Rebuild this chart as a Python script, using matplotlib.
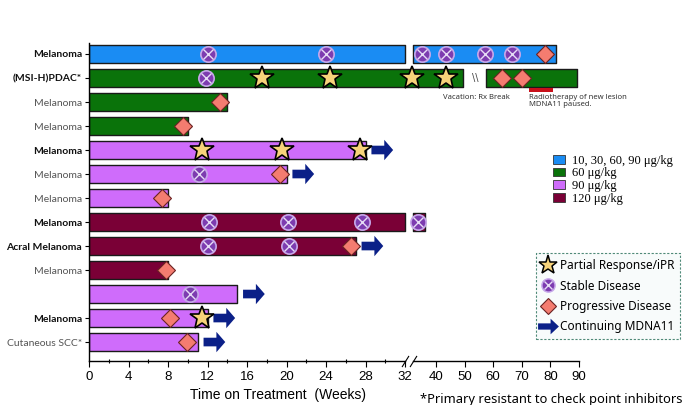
from matplotlib import pyplot as plt
from matplotlib.patches import Patch
from matplotlib.lines import Line2D
from matplotlib.path import Path
import numpy as np

# one row per patient, top to bottom
labels = ['Melanoma', '(MSI-H)PDAC*', 'Melanoma', 'Melanoma', 'Melanoma', 'Melanoma',
          'Melanoma', 'Melanoma', 'Acral Melanoma', 'Melanoma', '', 'Melanoma',
          'Cutaneous SCC*']
bold = [1, 1, 0, 0, 1, 0, 0, 1, 1, 0, 0, 1, 0]
dose = ['mixed', '60', '60', '60', '90', '90', '90', '120', '120', '120', '90', '90', '90']

# treatment periods in weeks (start, end)
periods = [
    [(0, 32), (34, 82)],
    [(0, 49.5), (57.5, 89.3)],
    [(0, 14)],
    [(0, 10)],
    [(0, 28)],
    [(0, 20)],
    [(0, 8)],
    [(0, 32), (34, 37.2)],
    [(0, 27)],
    [(0, 8)],
    [(0, 15)],
    [(0, 12)],
    [(0, 11)],
]
stable = [
    [12, 24, 36.3, 43.5, 57, 66.6],
    [11.8],
    [], [], [],
    [11.1],
    [],
    [12.2, 20.2, 27.6, 35.3],
    [12.1, 20.3],
    [],
    [10.2],
    [], [],
]
partial = [
    [],
    [17.5, 24.4, 33.7, 43.5],
    [], [],
    [11.4, 19.5, 27.4],
    [], [], [], [], [], [],
    [11.4],
    [],
]
progressive = [
    [78],
    [63, 70],
    [13.3],
    [9.5],
    [],
    [19.3],
    [7.4],
    [],
    [26.5],
    [7.8],
    [],
    [8.2],
    [9.9],
]
continuing = [0, 0, 0, 0, 1, 1, 0, 0, 1, 0, 1, 1, 1]

dose_colors = {'mixed': '#1a8cf3', '60': '#0a730a', '90': '#cf6cfb', '120': '#7a0036'}
dose_names = {'mixed': '10, 30, 60, 90 \u03bcg/kg', '60': '60 \u03bcg/kg',
              '90': '90 \u03bcg/kg', '120': '120 \u03bcg/kg'}

major_ticks = [0, 4, 8, 12, 16, 20, 24, 28, 32, 40, 50, 60, 70, 80, 90]
minor_ticks = [2, 6, 10, 14, 18, 22, 26, 30]

# broken axis: 0-32 weeks linear, gap, then 40-90 compressed
K1 = 3.875 / 9.875
K2 = 2.86 / 9.875
X40 = 32 + 8 * K1


def fwd(x):
    x = np.asarray(x, dtype=float)
    return np.where(x < 32, x, np.where(x < 40, 32 + (x - 32) * K1, X40 + (x - 40) * K2))


def inv(u):
    u = np.asarray(u, dtype=float)
    return np.where(u < 32, u, np.where(u < X40, 32 + (u - 32) / K1, 40 + (u - X40) / K2))


SD_FACE = '#7d3cb0'
SD_EDGE = '#c7a8ea'
STAR_FACE = '#f7d37a'
PD_FACE = '#f47c70'
ARROW = '#0b2088'
LABEL_FONT = 'Lato'

fig = plt.figure(figsize=(6.83, 4.05), dpi=100)
ax = fig.add_axes([89 / 683, 1 - 361 / 405, 490 / 683, 318 / 405])
ax.set_xscale('function', functions=(fwd, inv))
ax.set_xlim(0, 90)
ax.set_ylim(12.79, -0.458)

for i in range(len(labels)):
    color = dose_colors[dose[i]]
    ax.broken_barh([(a, b - a) for a, b in periods[i]], (i - 0.375, 0.75),
                   facecolor=color, edgecolor='#1a1a1a', linewidth=1, zorder=2)
    for x in stable[i]:
        ax.plot(x, i, 'o', ms=11, mfc=SD_FACE, mec=SD_EDGE, mew=1.2, zorder=4)
        ax.plot(x, i, 'x', ms=6.5, mec='#e6dcf5', mew=1.0, zorder=5)
    for x in progressive[i]:
        ax.plot(x, i, 'D', ms=9, mfc=PD_FACE, mec='#6a2222', mew=0.8, zorder=4)
    for x in partial[i]:
        ax.plot(x, i, '*', ms=18, mfc=STAR_FACE, mec='black', mew=1.2, zorder=6)
    if continuing[i]:
        end = periods[i][-1][1]
        ax.arrow(end + 0.6, i, 2.2, 0, width=0.36, head_width=0.85, head_length=0.9,
                 length_includes_head=True, color=ARROW, linewidth=0, zorder=3)

# notes on the PDAC row
ax.text(53.6, 1, '\\\\', fontsize=7, color='#444', ha='center', va='center')
ax.text(42.4, 1.8, 'Vacation: Rx Break', fontsize=5.5, color='#333',
        ha='left', va='center', family='Noto Sans')
ax.broken_barh([(72.5, 8.4)], (1.4, 0.18), facecolor='#c8101a', zorder=2)
ax.text(72.5, 1.66, 'Radiotherapy of new lesion\nMDNA11 paused.', fontsize=5.5,
        color='#333', ha='left', va='top', linespacing=1.05, family='Noto Sans')

# y axis
tick_rows = [i for i in range(len(labels)) if labels[i]]
ax.set_yticks(tick_rows)
ax.set_yticklabels([labels[i] for i in tick_rows], family=LABEL_FONT, fontsize=7.5)
for lab, i in zip(ax.get_yticklabels(), tick_rows):
    if bold[i]:
        lab.set_fontweight('bold')
        lab.set_color('#111111')
    else:
        lab.set_color('#555555')
ax.tick_params(axis='y', length=3, width=0.8, pad=2)

# x axis with break
ax.set_xticks(major_ticks)
ax.set_xticklabels([str(t) for t in major_ticks], family='Liberation Sans', fontsize=9.5)
ax.set_xticks(minor_ticks, minor=True)
ax.tick_params(axis='x', which='major', length=4, width=0.8, direction='out', pad=3)
ax.tick_params(axis='x', which='minor', length=3, width=0.8, direction='inout')
for s in ['top', 'right', 'bottom']:
    ax.spines[s].set_visible(False)
ax.spines['left'].set_linewidth(1)
xt = ax.get_xaxis_transform()
ax.plot([0, 32], [0, 0], color='black', lw=1, transform=xt, clip_on=False)
ax.plot([34, 90], [0, 0], color='black', lw=1, transform=xt, clip_on=False)
for xb in [32, 34]:
    ax.plot([xb], [0], marker=[(-1, -1.6), (1, 1.6)], ms=8, mec='black', mew=0.8,
            transform=xt, clip_on=False)

fig.text(278 / 683, 1 - 395 / 405, 'Time on Treatment  (Weeks)', ha='center', va='center',
         fontsize=10, family='Liberation Sans')
fig.text(420 / 683, 1 - 403 / 405, '*Primary resistant to check point inhibitors',
         ha='left', va='baseline', fontsize=9.3, family='Noto Sans')

# dose legend
dose_handles = [Patch(facecolor=dose_colors[k], edgecolor='#333333', linewidth=0.6,
                      label=dose_names[k]) for k in ['mixed', '60', '90', '120']]
leg1 = fig.legend(handles=dose_handles, loc='upper left',
                  bbox_to_anchor=(544 / 683, 1 - 146 / 405), frameon=False,
                  prop={'family': 'Liberation Serif', 'size': 9},
                  handlelength=1.0, handleheight=0.7, labelspacing=0.05,
                  handletextpad=0.5, borderpad=0.2)

# response legend
arrow_marker = Path([(-1, -0.3), (0.2, -0.3), (0.2, -0.75), (1, 0), (0.2, 0.75),
                     (0.2, 0.3), (-1, 0.3), (-1, -0.3)])
resp_handles = [
    Line2D([], [], ls='', marker='*', ms=14, mfc=STAR_FACE, mec='black', mew=1.1),
    (Line2D([], [], ls='', marker='o', ms=9.5, mfc=SD_FACE, mec=SD_EDGE, mew=1.1),
     Line2D([], [], ls='', marker='x', ms=5.5, mec='#e6dcf5', mew=1.0)),
    Line2D([], [], ls='', marker='D', ms=8, mfc=PD_FACE, mec='#6a2222', mew=0.8),
    Line2D([], [], ls='', marker=arrow_marker, ms=15, mfc=ARROW, mec=ARROW, mew=0),
]
resp_labels = ['Partial Response/iPR', 'Stable Disease', 'Progressive Disease',
               'Continuing MDNA11']
leg2 = fig.legend(resp_handles, resp_labels, loc='upper left',
                  bbox_to_anchor=(536 / 683, 1 - 253 / 405), fancybox=False,
                  prop={'family': 'Noto Sans', 'size': 8.5},
                  handlelength=1.0, handletextpad=0.45, labelspacing=0.6,
                  borderpad=0.55, borderaxespad=0)
frame = leg2.get_frame()
frame.set_edgecolor('#4f8a78')
frame.set_linestyle((0, (2, 1.5)))
frame.set_linewidth(0.8)
frame.set_facecolor('#f8fbfb')
frame.set_alpha(1)

fig.savefig('out.png', dpi=100)
